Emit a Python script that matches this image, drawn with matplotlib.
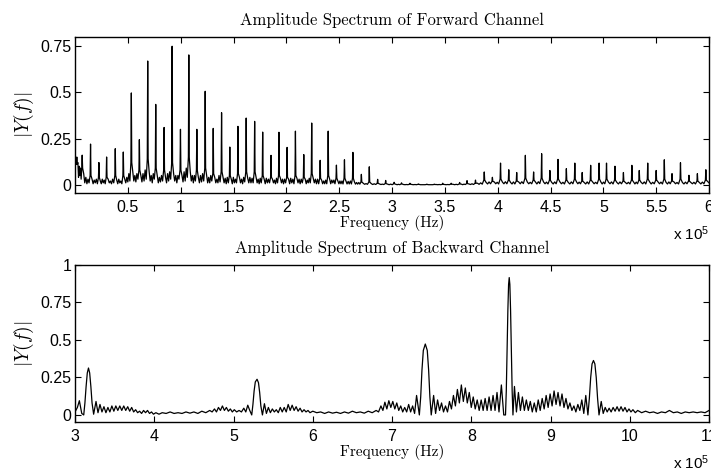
import numpy as np
import matplotlib
matplotlib.use("Agg")
import matplotlib.pyplot as plt

plt.rcParams['font.family'] = ['Liberation Sans', 'DejaVu Sans']
plt.rcParams['mathtext.fontset'] = 'cm'

# =========================
# DATA (frequency in units of 1e5 Hz)
# =========================
# forward channel: harmonic spikes, their base clutter and the floor noise in each gap
fwd_peak_f = [0.017, 0.068, 0.147, 0.226, 0.299, 0.381, 0.457, 0.533, 0.609, 0.688,
              0.764, 0.843, 0.919, 0.998, 1.077, 1.153, 1.232, 1.308, 1.387, 1.465,
              1.542, 1.620, 1.700, 1.776, 1.855, 1.930, 2.007, 2.086, 2.165, 2.240,
              2.320, 2.396, 2.474, 2.550, 2.630, 2.710, 2.785, 2.864, 2.940, 3.020,
              3.090, 3.170, 3.250, 3.330, 3.400, 3.480, 3.560, 3.640, 3.710, 3.790,
              3.873, 3.950, 4.027, 4.105, 4.180, 4.262, 4.340, 4.416, 4.494, 4.571,
              4.650, 4.730, 4.800, 4.880, 4.960, 5.030, 5.110, 5.190, 5.270, 5.340,
              5.420, 5.500, 5.577, 5.650, 5.730, 5.810, 5.890, 5.970]
fwd_peak_a = [0.150, 0.160, 0.220, 0.120, 0.150, 0.195, 0.177, 0.497, 0.244, 0.670,
              0.435, 0.310, 0.750, 0.300, 0.703, 0.300, 0.506, 0.305, 0.390, 0.204,
              0.316, 0.361, 0.343, 0.285, 0.159, 0.284, 0.202, 0.290, 0.163, 0.334,
              0.132, 0.290, 0.106, 0.135, 0.175, 0.056, 0.097, 0.029, 0.023, 0.013,
              0.010, 0.008, 0.004, 0.003, 0.003, 0.008, 0.008, 0.012, 0.022, 0.025,
              0.069, 0.040, 0.117, 0.081, 0.066, 0.159, 0.069, 0.168, 0.077, 0.137,
              0.087, 0.117, 0.066, 0.105, 0.117, 0.117, 0.100, 0.066, 0.105, 0.077,
              0.117, 0.077, 0.135, 0.060, 0.119, 0.051, 0.060, 0.081]
fwd_base_a = [0.110, 0.090, 0.050, 0.040, 0.040, 0.050, 0.050, 0.120, 0.080, 0.140,
              0.090, 0.080, 0.120, 0.080, 0.150, 0.080, 0.090, 0.060, 0.070, 0.050,
              0.060, 0.070, 0.070, 0.050, 0.040, 0.050, 0.040, 0.050, 0.040, 0.060,
              0.035, 0.050, 0.035, 0.035, 0.035, 0.015, 0.015, 0.008, 0.006, 0.005,
              0.004, 0.003, 0.002, 0.001, 0.001, 0.002, 0.003, 0.004, 0.006, 0.008,
              0.025, 0.018, 0.030, 0.025, 0.020, 0.035, 0.025, 0.035, 0.025, 0.030,
              0.025, 0.030, 0.020, 0.025, 0.030, 0.030, 0.025, 0.020, 0.025, 0.025,
              0.030, 0.025, 0.030, 0.020, 0.030, 0.020, 0.020, 0.025]
fwd_gap_noise = [
    (0.12, 0.04, 0.10, 0.05, 0.09, 0.03), (0.06, 0.01, 0.04, 0.005, 0.03, 0.01),
    (0.03, 0.005, 0.025, 0.01, 0.03, 0.005), (0.02, 0.005, 0.03, 0.01, 0.025, 0.005),
    (0.03, 0.01, 0.02, 0.005, 0.03, 0.01), (0.025, 0.005, 0.03, 0.01, 0.02, 0.005),
    (0.03, 0.01, 0.04, 0.015, 0.06, 0.02), (0.07, 0.02, 0.05, 0.015, 0.06, 0.03),
    (0.05, 0.015, 0.06, 0.02, 0.08, 0.03), (0.07, 0.02, 0.05, 0.01, 0.06, 0.03),
    (0.05, 0.01, 0.04, 0.015, 0.05, 0.02), (0.04, 0.01, 0.06, 0.02, 0.07, 0.03),
    (0.06, 0.02, 0.05, 0.01, 0.05, 0.03), (0.05, 0.015, 0.07, 0.02, 0.09, 0.04),
    (0.07, 0.02, 0.05, 0.01, 0.05, 0.02), (0.04, 0.01, 0.05, 0.015, 0.06, 0.02),
    (0.05, 0.01, 0.04, 0.01, 0.05, 0.02), (0.04, 0.01, 0.03, 0.01, 0.05, 0.015),
    (0.04, 0.01, 0.035, 0.005, 0.04, 0.01), (0.03, 0.005, 0.04, 0.01, 0.03, 0.01),
    (0.04, 0.01, 0.03, 0.005, 0.04, 0.015), (0.035, 0.01, 0.04, 0.01, 0.035, 0.01),
    (0.04, 0.01, 0.03, 0.005, 0.035, 0.01), (0.03, 0.005, 0.035, 0.01, 0.03, 0.01),
    (0.03, 0.01, 0.025, 0.005, 0.035, 0.01), (0.035, 0.01, 0.03, 0.005, 0.03, 0.01),
    (0.03, 0.005, 0.035, 0.01, 0.03, 0.005), (0.035, 0.01, 0.03, 0.005, 0.03, 0.01),
    (0.03, 0.005, 0.025, 0.01, 0.035, 0.01), (0.035, 0.01, 0.03, 0.005, 0.03, 0.005),
    (0.025, 0.005, 0.02, 0.005, 0.025, 0.005), (0.03, 0.005, 0.025, 0.01, 0.025, 0.005),
    (0.02, 0.005, 0.02, 0.005, 0.02, 0.004), (0.02, 0.004, 0.018, 0.004, 0.02, 0.004),
    (0.015, 0.003, 0.012, 0.003, 0.012, 0.003),
    (0.008, 0.002, 0.006, 0.002), (0.006, 0.001, 0.005, 0.001), (0.004, 0.001, 0.003, 0.001),
    (0.003, 0.0, 0.003, 0.0), (0.002, 0.0, 0.002, 0.0), (0.001, 0.0, 0.001, 0.0),
    (0.001, 0.0, 0.001, 0.0), (0.0, 0.0, 0.0, 0.0), (0.0, 0.0, 0.0, 0.0),
    (0.001, 0.0, 0.001, 0.0), (0.001, 0.0, 0.001, 0.0), (0.002, 0.0, 0.002, 0.0),
    (0.003, 0.0, 0.003, 0.001), (0.004, 0.001, 0.005, 0.001), (0.008, 0.002, 0.01, 0.003),
    (0.012, 0.004, 0.015, 0.005), (0.015, 0.005, 0.013, 0.004), (0.014, 0.005, 0.016, 0.005),
    (0.012, 0.004, 0.015, 0.004), (0.015, 0.005, 0.016, 0.006), (0.015, 0.005, 0.013, 0.005),
    (0.014, 0.004, 0.016, 0.006), (0.015, 0.005, 0.014, 0.004), (0.012, 0.004, 0.015, 0.005),
    (0.015, 0.005, 0.013, 0.004), (0.012, 0.004, 0.015, 0.005), (0.015, 0.005, 0.014, 0.005),
    (0.012, 0.004, 0.015, 0.004), (0.015, 0.005, 0.013, 0.005), (0.015, 0.004, 0.014, 0.005),
    (0.014, 0.005, 0.015, 0.004), (0.012, 0.004, 0.015, 0.005), (0.012, 0.005, 0.013, 0.004),
    (0.015, 0.004, 0.014, 0.005), (0.012, 0.005, 0.015, 0.004), (0.015, 0.004, 0.013, 0.005),
    (0.015, 0.005, 0.014, 0.004), (0.012, 0.004, 0.015, 0.005), (0.015, 0.005, 0.012, 0.004),
    (0.012, 0.004, 0.014, 0.005), (0.012, 0.005, 0.013, 0.004), (0.012, 0.004, 0.014, 0.005),
]

# backward channel: local maxima / minima of the trace, main lobes sampled more finely
back_f = [3.000, 3.030, 3.055, 3.085, 3.110, 3.125, 3.140, 3.155, 3.170, 3.185, 3.200,
          3.215, 3.235, 3.265, 3.290, 3.315, 3.340, 3.365, 3.390, 3.415, 3.440, 3.465,
          3.490, 3.515, 3.540, 3.565, 3.590, 3.615, 3.640, 3.665, 3.690, 3.715, 3.740,
          3.765, 3.790, 3.815, 3.840, 3.865, 3.890, 3.915, 3.940, 3.965, 3.990, 4.020,
          4.060, 4.100, 4.150, 4.200, 4.250, 4.300, 4.350, 4.400, 4.450, 4.500, 4.550,
          4.600, 4.650, 4.700, 4.730, 4.760, 4.785, 4.810, 4.835, 4.860, 4.885, 4.910,
          4.935, 4.960, 4.985, 5.010, 5.040, 5.070, 5.100, 5.130, 5.155, 5.180, 5.205,
          5.230, 5.245, 5.260, 5.275, 5.297, 5.315, 5.330, 5.345, 5.365, 5.390, 5.415,
          5.440, 5.465, 5.490, 5.515, 5.540, 5.565, 5.590, 5.615, 5.640, 5.665, 5.690,
          5.715, 5.740, 5.765, 5.790, 5.815, 5.840, 5.865, 5.890, 5.915, 5.940, 5.965,
          6.000, 6.050, 6.100, 6.150, 6.200, 6.250, 6.300, 6.350, 6.400, 6.450, 6.500,
          6.550, 6.600, 6.650, 6.700, 6.750, 6.800, 6.830, 6.860, 6.885, 6.910, 6.935,
          6.960, 6.985, 7.010, 7.035, 7.060, 7.085, 7.110, 7.135, 7.160, 7.185, 7.210,
          7.235, 7.260, 7.285, 7.310, 7.345, 7.362, 7.378, 7.395, 7.420, 7.445, 7.462,
          7.478, 7.495, 7.525, 7.550, 7.575, 7.600, 7.625, 7.650, 7.675, 7.700, 7.725,
          7.750, 7.775, 7.800, 7.825, 7.850, 7.875, 7.900, 7.925, 7.950, 7.975, 8.000,
          8.025, 8.050, 8.075, 8.100, 8.125, 8.150, 8.175, 8.200, 8.225, 8.250, 8.275,
          8.300, 8.325, 8.350, 8.380, 8.410, 8.432, 8.442, 8.452, 8.462, 8.471, 8.479,
          8.487, 8.496, 8.506, 8.516, 8.526, 8.545, 8.570, 8.595, 8.620, 8.645, 8.670,
          8.695, 8.720, 8.745, 8.770, 8.795, 8.820, 8.845, 8.870, 8.895, 8.920, 8.945,
          8.970, 8.995, 9.020, 9.045, 9.070, 9.095, 9.120, 9.145, 9.170, 9.195, 9.220,
          9.245, 9.270, 9.295, 9.320, 9.345, 9.370, 9.395, 9.420, 9.445, 9.472, 9.490,
          9.507, 9.524, 9.542, 9.560, 9.577, 9.594, 9.612, 9.640, 9.665, 9.690, 9.715,
          9.740, 9.765, 9.790, 9.815, 9.840, 9.865, 9.890, 9.915, 9.940, 9.965, 9.990,
          10.015, 10.040, 10.070, 10.100, 10.150, 10.200, 10.250, 10.300, 10.350, 10.400,
          10.450, 10.500, 10.550, 10.600, 10.650, 10.700, 10.750, 10.800, 10.850, 10.900,
          10.950, 11.000]
back_a = [0.020, 0.050, 0.095, 0.010, 0.000, 0.080, 0.190, 0.280, 0.313, 0.280, 0.190,
          0.080, 0.005, 0.090, 0.015, 0.070, 0.020, 0.055, 0.015, 0.050, 0.020, 0.060,
          0.025, 0.060, 0.030, 0.060, 0.030, 0.060, 0.030, 0.055, 0.025, 0.050, 0.020,
          0.035, 0.015, 0.025, 0.010, 0.030, 0.015, 0.030, 0.010, 0.020, 0.005, 0.015,
          0.005, 0.015, 0.010, 0.020, 0.010, 0.015, 0.010, 0.020, 0.012, 0.020, 0.010,
          0.025, 0.015, 0.030, 0.020, 0.040, 0.020, 0.050, 0.030, 0.060, 0.030, 0.050,
          0.025, 0.040, 0.020, 0.035, 0.020, 0.030, 0.020, 0.045, 0.020, 0.065, 0.030,
          0.000, 0.070, 0.160, 0.220, 0.238, 0.215, 0.150, 0.060, 0.000, 0.075, 0.010,
          0.050, 0.015, 0.040, 0.020, 0.035, 0.015, 0.050, 0.020, 0.050, 0.020, 0.070,
          0.030, 0.065, 0.030, 0.055, 0.025, 0.045, 0.020, 0.035, 0.020, 0.030, 0.015,
          0.025, 0.015, 0.020, 0.010, 0.020, 0.012, 0.018, 0.010, 0.020, 0.012, 0.025,
          0.015, 0.020, 0.012, 0.025, 0.015, 0.030, 0.020, 0.060, 0.030, 0.085, 0.040,
          0.095, 0.050, 0.090, 0.040, 0.080, 0.030, 0.060, 0.020, 0.050, 0.020, 0.070,
          0.020, 0.060, 0.010, 0.130, 0.000, 0.120, 0.300, 0.430, 0.473, 0.430, 0.300,
          0.120, 0.000, 0.130, 0.010, 0.100, 0.030, 0.080, 0.020, 0.060, 0.020, 0.090,
          0.040, 0.130, 0.060, 0.170, 0.080, 0.200, 0.090, 0.180, 0.080, 0.150, 0.050,
          0.120, 0.040, 0.100, 0.030, 0.100, 0.030, 0.110, 0.030, 0.120, 0.030, 0.130,
          0.030, 0.150, 0.020, 0.200, 0.000, 0.000, 0.160, 0.420, 0.700, 0.870, 0.916,
          0.870, 0.700, 0.420, 0.160, 0.000, 0.190, 0.020, 0.150, 0.030, 0.120, 0.030,
          0.100, 0.030, 0.090, 0.020, 0.080, 0.020, 0.100, 0.030, 0.110, 0.040, 0.130,
          0.050, 0.140, 0.060, 0.160, 0.070, 0.150, 0.060, 0.140, 0.050, 0.110, 0.040,
          0.080, 0.030, 0.060, 0.020, 0.070, 0.030, 0.100, 0.010, 0.130, 0.000, 0.110,
          0.250, 0.340, 0.363, 0.340, 0.250, 0.110, 0.000, 0.090, 0.010, 0.050, 0.020,
          0.045, 0.020, 0.050, 0.025, 0.055, 0.025, 0.055, 0.025, 0.050, 0.020, 0.040,
          0.020, 0.035, 0.015, 0.030, 0.015, 0.025, 0.015, 0.020, 0.010, 0.020,
          0.015, 0.030, 0.015, 0.020, 0.010, 0.020, 0.015, 0.020, 0.015, 0.020,
          0.015, 0.030]

fwd_xticks = [0.5, 1, 1.5, 2, 2.5, 3, 3.5, 4, 4.5, 5, 5.5, 6]
fwd_yticks = [0, 0.25, 0.5, 0.75]
back_xticks = [3, 4, 5, 6, 7, 8, 9, 10, 11]
back_yticks = [0, 0.25, 0.5, 0.75, 1]


def forward_trace():
    # spike per harmonic with clutter at its base, noise samples spread in each gap
    half = 0.004
    xs, ys = [], []
    for i, (f, a, b) in enumerate(zip(fwd_peak_f, fwd_peak_a, fwd_base_a)):
        xs += [f - half, f, f + half]
        ys += [b, a, b]
        if i < len(fwd_gap_noise):
            nxt = fwd_peak_f[i + 1]
            noise = fwd_gap_noise[i]
            for k, v in enumerate(noise):
                xs.append(f + half + (nxt - f - 2 * half) * (k + 1) / (len(noise) + 1))
                ys.append(v)
    xs.append(6.0)
    ys.append(0.01)
    return np.array(xs), np.array(ys)


def style_axes(ax, xticks, yticks, xlim, ylim, title):
    ax.set_xlim(*xlim)
    ax.set_ylim(*ylim)
    ax.set_xticks(xticks)
    ax.set_xticklabels([f"{t:g}" for t in xticks])
    ax.set_yticks(yticks)
    ax.set_yticklabels([f"{t:g}" for t in yticks])
    ax.tick_params(direction='in', top=True, right=True, length=4, width=0.8,
                   labelsize=11.5)
    ax.tick_params(axis='x', pad=5)
    ax.tick_params(axis='y', pad=2.5)
    for sp in ax.spines.values():
        sp.set_linewidth(1.0)
    ax.set_title(title, family='cmr10', fontsize=12, pad=8.5)
    ax.set_xlabel("Frequency (Hz)", family='cmr10', fontsize=11, labelpad=0)
    ax.set_ylabel(r"$|Y(f)|$", fontsize=14, labelpad=3)


fig = plt.figure(figsize=(7.11, 4.68), dpi=100)

ax1 = fig.add_axes([0.1055, 0.5876, 0.8917, 0.3333])
fx, fy = forward_trace()
ax1.plot(fx, fy, color='black', linewidth=0.9)
style_axes(ax1, fwd_xticks, fwd_yticks, (0.0, 6.0), (-0.045, 0.8),
           "Amplitude Spectrum of Forward Channel")
ax1.text(1.0, -0.2, r"x $\mathregular{10^5}$", transform=ax1.transAxes,
         ha='right', va='top', fontsize=11)

ax2 = fig.add_axes([0.1055, 0.0983, 0.8917, 0.3355])
ax2.plot(back_f, back_a, color='black', linewidth=0.9)
style_axes(ax2, back_xticks, back_yticks, (3, 11), (-0.047, 1.0),
           "Amplitude Spectrum of Backward Channel")
ax2.text(1.0, -0.2, r"x $\mathregular{10^5}$", transform=ax2.transAxes,
         ha='right', va='top', fontsize=11)

fig.savefig("out.png", dpi=100)
